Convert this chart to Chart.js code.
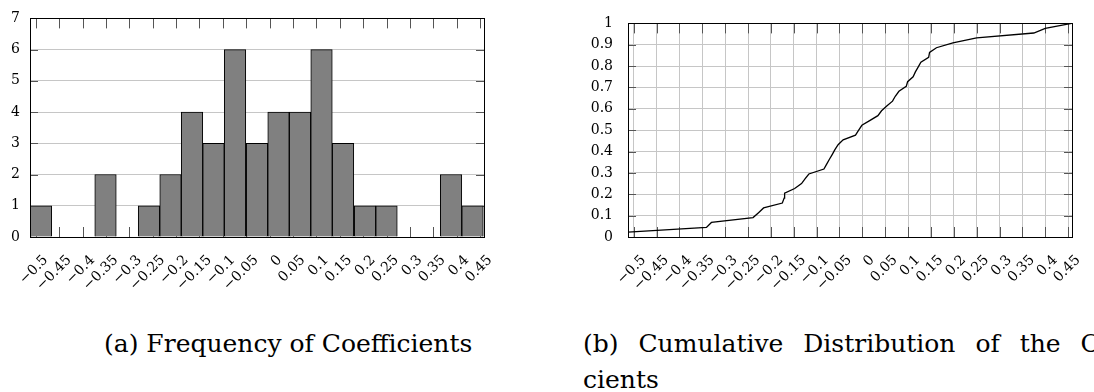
<!DOCTYPE html>
<html>
<head>
<meta charset="utf-8">
<script src="https://cdn.jsdelivr.net/npm/chart.js@4"></script>
<style>
  body { margin: 0; width: 1094px; height: 392px; overflow: hidden; background: #fff; position: relative; }
  .box { position: absolute; top: 0; height: 300px; }
  #boxA { left: 0; width: 500px; }
  #boxB { left: 560px; width: 534px; }
  .cap { position: absolute; font-family: "DejaVu Serif", serif; font-size: 25px; line-height: 36px; color: #000; white-space: nowrap; }
  #capA { left: 104px; top: 326px; }
  #capB { left: 583px; top: 326px; word-spacing: 12px; }
</style>
</head>
<body>
<div class="box" id="boxA"><canvas id="hist"></canvas></div>
<div class="box" id="boxB"><canvas id="cdf"></canvas></div>
<div class="cap" id="capA">(a) Frequency of Coefficients</div>
<div class="cap" id="capB">(b) Cumulative Distribution of the Coeffi-<br>cients</div>
<script>
// histogram: bin centres and counts (21 bins)
const binCenters = [-0.489, -0.443, -0.397, -0.351, -0.305, -0.258, -0.212, -0.166, -0.120, -0.074, -0.027,
                    0.019, 0.065, 0.111, 0.157, 0.204, 0.250, 0.296, 0.342, 0.388, 0.434];
const binCounts = [1, 0, 0, 2, 0, 1, 2, 4, 3, 6, 3, 4, 4, 6, 3, 1, 1, 0, 0, 2, 1];

// cumulative distribution (sorted coefficients)
const cdfX = [-0.5125, -0.341, -0.330, -0.239, -0.227, -0.216, -0.175, -0.171, -0.170, -0.148, -0.133,
              -0.125, -0.117, -0.084, -0.078, -0.072, -0.066, -0.060, -0.053, -0.042, -0.015, -0.008,
              -0.001, 0.016, 0.034, 0.042, 0.054, 0.066, 0.072, 0.080, 0.096, 0.099, 0.111, 0.116,
              0.122, 0.128, 0.145, 0.147, 0.162, 0.198, 0.250, 0.375, 0.400, 0.4575];
const cdfY = [0.023, 0.045, 0.068, 0.091, 0.114, 0.136, 0.159, 0.182, 0.205, 0.227, 0.250,
              0.273, 0.295, 0.318, 0.341, 0.364, 0.386, 0.409, 0.432, 0.455, 0.477, 0.500,
              0.523, 0.545, 0.568, 0.591, 0.614, 0.636, 0.659, 0.682, 0.705, 0.727, 0.750, 0.773,
              0.795, 0.818, 0.841, 0.864, 0.886, 0.909, 0.932, 0.955, 0.977, 1.000];

const xTicks = [-0.5, -0.45, -0.4, -0.35, -0.3, -0.25, -0.2, -0.15, -0.1, -0.05, 0,
                0.05, 0.1, 0.15, 0.2, 0.25, 0.3, 0.35, 0.4, 0.45];
const histYTicks = [0, 1, 2, 3, 4, 5, 6, 7];
const cdfYTicks = [0, 0.1, 0.2, 0.3, 0.4, 0.5, 0.6, 0.7, 0.8, 0.9, 1];

const X_MIN = -0.5125, X_MAX = 0.4585;
const SERIF = '"DejaVu Serif", serif';

function fmt(v, d) {
  const s = String(Number(v.toFixed(d)));
  return s.replace('-', '\u2212');
}

// pgfplots-like frame with inward ticks on all four sides
const pgfFrame = {
  id: 'pgfFrame',
  beforeDatasetsDraw(chart, args, opts) {
    const { ctx, chartArea: a, scales: { x, y } } = chart;
    ctx.save();
    ctx.strokeStyle = '#555';
    ctx.lineWidth = 1;
    ctx.beginPath();
    x.ticks.forEach(t => {
      const px = Math.round(x.getPixelForValue(t.value)) + 0.5;
      ctx.moveTo(px, a.bottom); ctx.lineTo(px, a.bottom - opts.xLen);
      ctx.moveTo(px, a.top); ctx.lineTo(px, a.top + opts.xLen);
    });
    y.ticks.forEach(t => {
      const py = Math.round(y.getPixelForValue(t.value)) + 0.5;
      ctx.moveTo(a.left, py); ctx.lineTo(a.left + opts.yLen, py);
      ctx.moveTo(a.right, py); ctx.lineTo(a.right - opts.yLen, py);
    });
    ctx.stroke();
    ctx.restore();
  },
  afterDatasetsDraw(chart) {
    const { ctx, chartArea: a } = chart;
    ctx.save();
    ctx.strokeStyle = '#000';
    ctx.lineWidth = 1;
    ctx.strokeRect(Math.round(a.left) + 0.5, Math.round(a.top) + 0.5,
                   Math.round(a.right - a.left), Math.round(a.bottom - a.top));
    ctx.restore();
  }
};

function setTicks(list) {
  return scale => { scale.ticks = list.map(v => ({ value: v })); };
}

function xScale(fontSize, gridOn) {
  return {
    type: 'linear',
    min: X_MIN,
    max: X_MAX,
    offset: false,
    afterBuildTicks: setTicks(xTicks),
    afterFit: s => { s.height = 63; s.paddingLeft = 0; s.paddingRight = 0; },
    grid: { display: gridOn, color: '#c6c6c6', drawTicks: false },
    border: { display: false },
    ticks: {
      autoSkip: false,
      minRotation: 45,
      maxRotation: 45,
      padding: 15,
      labelOffset: 10,
      color: '#000',
      font: { family: SERIF, size: fontSize },
      callback: v => fmt(v, 2)
    }
  };
}

Chart.defaults.animation = false;

new Chart(document.getElementById('hist'), {
  type: 'bar',
  data: {
    datasets: [{
      data: binCenters.map((c, i) => ({ x: c, y: binCounts[i] })),
      backgroundColor: '#808080',
      borderColor: '#000',
      borderWidth: 1,
      barPercentage: 1,
      categoryPercentage: 1
    }]
  },
  options: {
    responsive: true,
    maintainAspectRatio: false,
    layout: { padding: { top: 13, right: 16, left: 0, bottom: 0 } },
    plugins: { legend: { display: false }, tooltip: { enabled: false }, pgfFrame: { xLen: 10, yLen: 8 } },
    scales: {
      x: xScale(14, false),
      y: {
        min: 0,
        max: 7,
        afterBuildTicks: setTicks(histYTicks),
        afterFit: s => { s.width = 30; },
        grid: { color: '#c6c6c6', drawTicks: false },
        border: { display: false },
        ticks: { padding: 10, color: '#000', font: { family: SERIF, size: 14 }, callback: v => fmt(v, 0) }
      }
    }
  },
  plugins: [pgfFrame]
});

new Chart(document.getElementById('cdf'), {
  type: 'line',
  data: {
    datasets: [{
      data: cdfX.map((v, i) => ({ x: v, y: cdfY[i] })),
      borderColor: '#000',
      borderWidth: 1.3,
      pointRadius: 0,
      tension: 0,
      fill: false
    }]
  },
  options: {
    responsive: true,
    maintainAspectRatio: false,
    layout: { padding: { top: 13, right: 22, left: 0, bottom: 0 } },
    plugins: { legend: { display: false }, tooltip: { enabled: false }, pgfFrame: { xLen: 10, yLen: 8 } },
    scales: {
      x: xScale(14, true),
      y: {
        min: 0,
        max: 1,
        afterBuildTicks: setTicks(cdfYTicks),
        afterFit: s => { s.width = 68; },
        grid: { color: '#c6c6c6', drawTicks: false },
        border: { display: false },
        ticks: { padding: 15, color: '#000', font: { family: SERIF, size: 14 }, callback: v => fmt(v, 1) }
      }
    }
  },
  plugins: [pgfFrame]
});
</script>
</body>
</html>
